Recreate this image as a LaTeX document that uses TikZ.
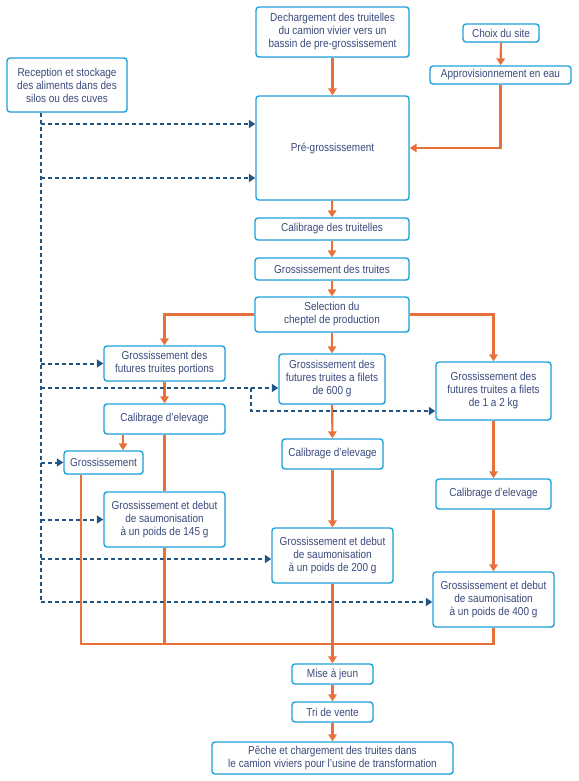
\documentclass[tikz,border=0pt]{standalone}
\usepackage{fontspec}
\setmainfont[FakeStretch=0.87]{Liberation Sans}
\usetikzlibrary{arrows.meta,shadows,calc}
\definecolor{txt}{HTML}{3B4A7C}
\definecolor{bord}{HTML}{1FA2DA}
\definecolor{org}{HTML}{E8703A}
\definecolor{dblue}{HTML}{1F5685}
\tikzset{
  box/.style={draw=bord, line width=1.4pt, rounded corners=3pt, fill=white, text=txt,
    align=center, inner sep=1pt, font=\fontsize{11.5}{13}\selectfont,
    drop shadow={opacity=0.18, shadow xshift=0.8pt, shadow yshift=-0.8pt}},
  flow/.style={draw=org, line width=2.1pt, -{Triangle[length=7pt,width=8.5pt]}},
  flowline/.style={draw=org, line width=2.1pt},
  feed/.style={draw=dblue, line width=2pt, dash pattern=on 4pt off 3pt, -{Triangle[length=6.5pt,width=8pt]}},
  feedline/.style={draw=dblue, line width=2pt, dash pattern=on 4pt off 3pt},
}
\begin{document}
\begin{tikzpicture}[x=1pt,y=-1pt]
\useasboundingbox (0,0) rectangle (578,781);
% boxes
\node[box, minimum width=120pt, minimum height=54pt] (rec) at (67,85) {Reception et stockage\\des aliments dans des\\silos ou des cuves};
\node[box, minimum width=153pt, minimum height=50pt] (dech) at (332.5,32) {Dechargement des truitelles\\du camion vivier vers un\\bassin de pre-grossissement};
\node[box, minimum width=76pt, minimum height=18pt] (choix) at (501,33) {Choix du site};
\node[box, minimum width=141pt, minimum height=18pt] (appro) at (500.5,75) {Approvisionnement en eau};
\node[box, minimum width=153pt, minimum height=104pt] (pre) at (332.5,148) {Pré-grossissement};
\node[box, minimum width=154pt, minimum height=22pt] (cal1) at (332,229) {Calibrage des truitelles};
\node[box, minimum width=154pt, minimum height=22pt] (gt) at (332,269) {Grossissement des truites};
\node[box, minimum width=154pt, minimum height=35pt] (sel) at (332,314.5) {Selection du\\cheptel de production};
\node[box, minimum width=121pt, minimum height=35pt] (gp) at (164.5,363.5) {Grossissement des\\futures truites portions};
\node[box, minimum width=106pt, minimum height=50pt] (g600) at (332,379) {Grossissement des\\futures truites a filets\\de 600 g};
\node[box, minimum width=115pt, minimum height=58pt] (g12) at (493.5,391) {Grossissement des\\futures truites a filets\\de 1 a 2 kg};
\node[box, minimum width=121pt, minimum height=30pt] (calL) at (164.5,419) {Calibrage d'elevage};
\node[box, minimum width=79pt, minimum height=23pt] (gs) at (103.5,462.5) {Grossissement};
\node[box, minimum width=101pt, minimum height=30pt] (calM) at (332.5,454) {Calibrage d'elevage};
\node[box, minimum width=115pt, minimum height=30pt] (calR) at (493.5,494) {Calibrage d'elevage};
\node[box, minimum width=121pt, minimum height=55pt] (g145) at (164.5,519.5) {Grossissement et debut\\de saumonisation\\à un poids de 145 g};
\node[box, minimum width=121pt, minimum height=55pt] (g200) at (332.5,555.5) {Grossissement et debut\\de saumonisation\\à un poids de 200 g};
\node[box, minimum width=121pt, minimum height=55pt] (g400) at (493.5,599.5) {Grossissement et debut\\de saumonisation\\à un poids de 400 g};
\node[box, minimum width=81pt, minimum height=20pt] (mise) at (332.5,674) {Mise à jeun};
\node[box, minimum width=81pt, minimum height=20pt] (tri) at (332.5,712) {Tri de vente};
\node[box, minimum width=241pt, minimum height=32pt] (peche) at (332.5,758) {Pêche et chargement des truites dans\\le camion viviers pour l'usine de transformation};
% orange flow
\draw[flow] (dech) -- (pre);
\draw[flow] (choix) -- (appro);
\draw[flow] (appro.south) |- (pre.east);
\draw[flow] (pre) -- (cal1);
\draw[flow] (cal1) -- (gt);
\draw[flow] (gt) -- (sel);
\draw[flow] (sel.west) -| (gp.north);
\draw[flow] (sel) -- (g600);
\draw[flow] (sel.east) -| (g12.north);
\draw[flow] (gp) -- (calL);
\coordinate (cl) at ([xshift=-41.5pt]calL.south);
\draw[flow] (cl) -- (cl |- gs.north);
\draw[flowline] (calL) -- (g145);
\draw[flow] (g600) -- (calM);
\draw[flow] (calM) -- (g200);
\draw[flow] (g12) -- (calR);
\draw[flow] (calR) -- (g400);
\coordinate (gsb) at ([xshift=-22.5pt]gs.south);
\coordinate (busL) at (gsb |- 0,644);
\draw[flowline] (gsb) -- (busL) -| (g400.south);
\draw[flowline] (g145.south) -- (g145.south |- busL);
\draw[flow] (g200) -- (mise);
\draw[flow] (mise) -- (tri);
\draw[flow] (tri) -- (peche);
% dashed feed lines
\coordinate (t0) at ([xshift=-26pt]rec.south);
\coordinate (tend) at (t0 |- 0,602);
\draw[feedline] (t0) -- (tend);
\draw[feed] (tend) -- (tend -| g400.west);
\coordinate (d1) at (t0 |- 0,124);
\coordinate (d2) at (t0 |- 0,178);
\coordinate (d3) at (t0 |- gp.west);
\coordinate (d4) at (t0 |- 0,388);
\coordinate (d5) at (t0 |- gs.west);
\coordinate (d6) at (t0 |- g145.west);
\coordinate (d7) at (t0 |- 0,559);
\draw[feed] (d1) -- (d1 -| pre.west);
\draw[feed] (d2) -- (d2 -| pre.west);
\draw[feed] (d3) -- (gp.west);
\draw[feed] (d4) -- (d4 -| g600.west);
\coordinate (br) at (251,388);
\coordinate (br2) at (251,411);
\draw[feed] (br) -- (br2) -- (br2 -| g12.west);
\draw[feed] (d5) -- (gs.west);
\draw[feed] (d6) -- (g145.west);
\draw[feed] (d7) -- (d7 -| g200.west);
\end{tikzpicture}
\end{document}
